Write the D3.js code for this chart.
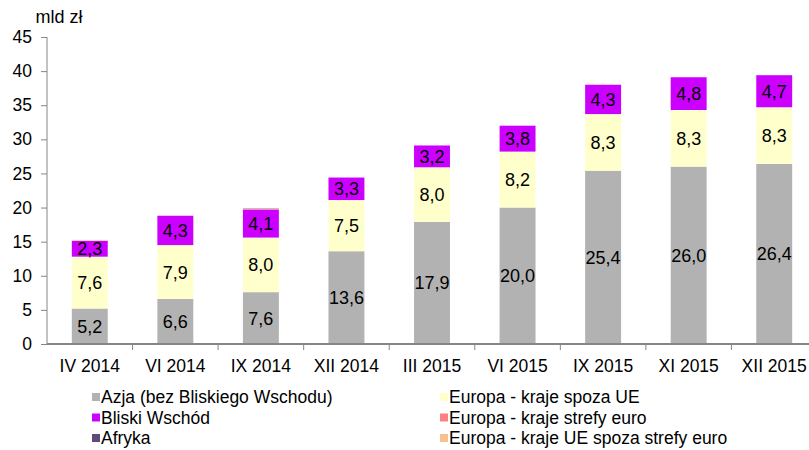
<!DOCTYPE html>
<html>
<head>
<meta charset="utf-8">
<script src="https://cdn.jsdelivr.net/npm/d3@7"></script>
<style>
	body { margin: 0; background: #fff; }
	svg text { font-family: "Liberation Sans", Arial, sans-serif; }
</style>
</head>
<body>
<svg id="chart"></svg>
<script>
'use strict'

var categories = ["IV 2014", "VI 2014", "IX 2014", "XII 2014", "III 2015", "VI 2015", "IX 2015", "XI 2015", "XII 2015"];

var seriesNames = ["Azja (bez Bliskiego Wschodu)", "Bliski Wschód", "Afryka",
	"Europa - kraje spoza UE", "Europa - kraje strefy euro", "Europa - kraje UE spoza strefy euro"];

var azja = [5.2, 6.6, 7.6, 13.6, 17.9, 20.0, 25.4, 26.0, 26.4];
var europaSpozaUE = [7.6, 7.9, 8.0, 7.5, 8.0, 8.2, 8.3, 8.3, 8.3];
var bliskiWschod = [2.3, 4.3, 4.1, 3.3, 3.2, 3.8, 4.3, 4.8, 4.7];
var europaStrefaEuro = [0, 0, 0.1, 0, 0, 0, 0, 0, 0];
var afryka = [0, 0, 0.05, 0, 0, 0, 0, 0, 0];
var europaUEspozaEuro = [0.1, 0, 0, 0, 0, 0, 0, 0, 0];

var yTicks = [0, 5, 10, 15, 20, 25, 30, 35, 40, 45];

var WIDTH = 809,
	HEIGHT = 450;

var margin = { left: 47, top: 37, bottom: 106 };
var plotRight = 817;

// stacking order bottom to top
var stackOrder = [
	{ name: "Azja (bez Bliskiego Wschodu)", values: azja, color: "#b2b2b2", label: true },
	{ name: "Europa - kraje spoza UE", values: europaSpozaUE, color: "#ffffcc", label: true },
	{ name: "Bliski Wschód", values: bliskiWschod, color: "#cc00ff", label: true },
	{ name: "Europa - kraje strefy euro", values: europaStrefaEuro, color: "#ff8080", label: false },
	{ name: "Afryka", values: afryka, color: "#604a7b", label: false },
	{ name: "Europa - kraje UE spoza strefy euro", values: europaUEspozaEuro, color: "#fac090", label: false }
];

var colorOf = {};
stackOrder.forEach(function(s) { colorOf[s.name] = s.color; });

var svg = d3.select("#chart")
	.attr("width", WIDTH)
	.attr("height", HEIGHT)

var x = d3.scaleBand()
	.domain(categories)
	.range([margin.left, plotRight])
	.paddingInner(0.58)
	.paddingOuter(0.29)

var y = d3.scaleLinear()
	.domain([0, 45])
	.range([HEIGHT - margin.bottom, margin.top])

var axisColor = "#868686";

// bars
var fmt = function(v) { return d3.format(".1f")(v).replace(".", ","); };

categories.forEach(function(cat, i) {
	var base = 0;
	stackOrder.forEach(function(s) {
		var v = s.values[i];
		if (v > 0) {
			svg.append("rect")
				.attr("x", x(cat))
				.attr("width", x.bandwidth())
				.attr("y", y(base + v))
				.attr("height", y(base) - y(base + v))
				.style("fill", s.color)
			if (s.label) {
				svg.append("text")
					.attr("x", x(cat) + x.bandwidth() / 2)
					.attr("y", y(base + v / 2))
					.attr("dy", "0.36em")
					.attr("text-anchor", "middle")
					.style("font-size", "18px")
					.style("fill", "#000")
					.text(fmt(v))
			}
		}
		base += v;
	});
});

// y axis
var yAxis = svg.append("g")
	.attr("transform", "translate(" + margin.left + ",0)")
	.call(d3.axisLeft(y).tickValues(yTicks).tickSize(6).tickPadding(9).tickFormat(d3.format("d")))

yAxis.selectAll("text").style("font-size", "17.5px").style("fill", "#000")
yAxis.selectAll("line").style("stroke", axisColor)
yAxis.select(".domain").style("stroke", axisColor).attr("d", "M0," + y(0) + "V" + y(45))

// x axis
var xBottom = y(0);
var xg = svg.append("g")

xg.append("line")
	.attr("x1", margin.left)
	.attr("x2", plotRight)
	.attr("y1", xBottom)
	.attr("y2", xBottom)
	.style("stroke", axisColor)
	.style("stroke-width", 2)

var step = x.step();
categories.forEach(function(cat, i) {
	var bx = x(cat) + x.bandwidth() / 2 + step / 2;
	if (i < categories.length - 1) {
		xg.append("line")
			.attr("x1", bx).attr("x2", bx)
			.attr("y1", xBottom).attr("y2", xBottom + 6)
			.style("stroke", axisColor)
	}
	xg.append("text")
		.attr("x", x(cat) + x.bandwidth() / 2)
		.attr("y", xBottom + 28)
		.attr("text-anchor", "middle")
		.style("font-size", "17.5px")
		.style("fill", "#000")
		.text(cat)
});

// unit label
svg.append("text")
	.attr("x", 59)
	.attr("y", 23)
	.attr("text-anchor", "middle")
	.style("font-size", "18px")
	.text("mld zł")

// legend
var legendItems = [
	{ name: seriesNames[0], col: 0, row: 0 },
	{ name: seriesNames[3], col: 1, row: 0 },
	{ name: seriesNames[1], col: 0, row: 1 },
	{ name: seriesNames[4], col: 1, row: 1 },
	{ name: seriesNames[2], col: 0, row: 2 },
	{ name: seriesNames[5], col: 1, row: 2 }
];
var legendX = [92, 440],
	legendY = 397,
	legendRow = 20.5;

var lg = svg.append("g")
legendItems.forEach(function(d) {
	var lx = legendX[d.col], ly = legendY + d.row * legendRow;
	lg.append("rect")
		.attr("x", lx)
		.attr("y", ly - 4)
		.attr("width", 8)
		.attr("height", 8)
		.style("fill", colorOf[d.name])
	lg.append("text")
		.attr("x", lx + 9)
		.attr("y", ly)
		.attr("dy", "0.35em")
		.style("font-size", "17.5px")
		.text(d.name)
});
</script>
</body>
</html>
